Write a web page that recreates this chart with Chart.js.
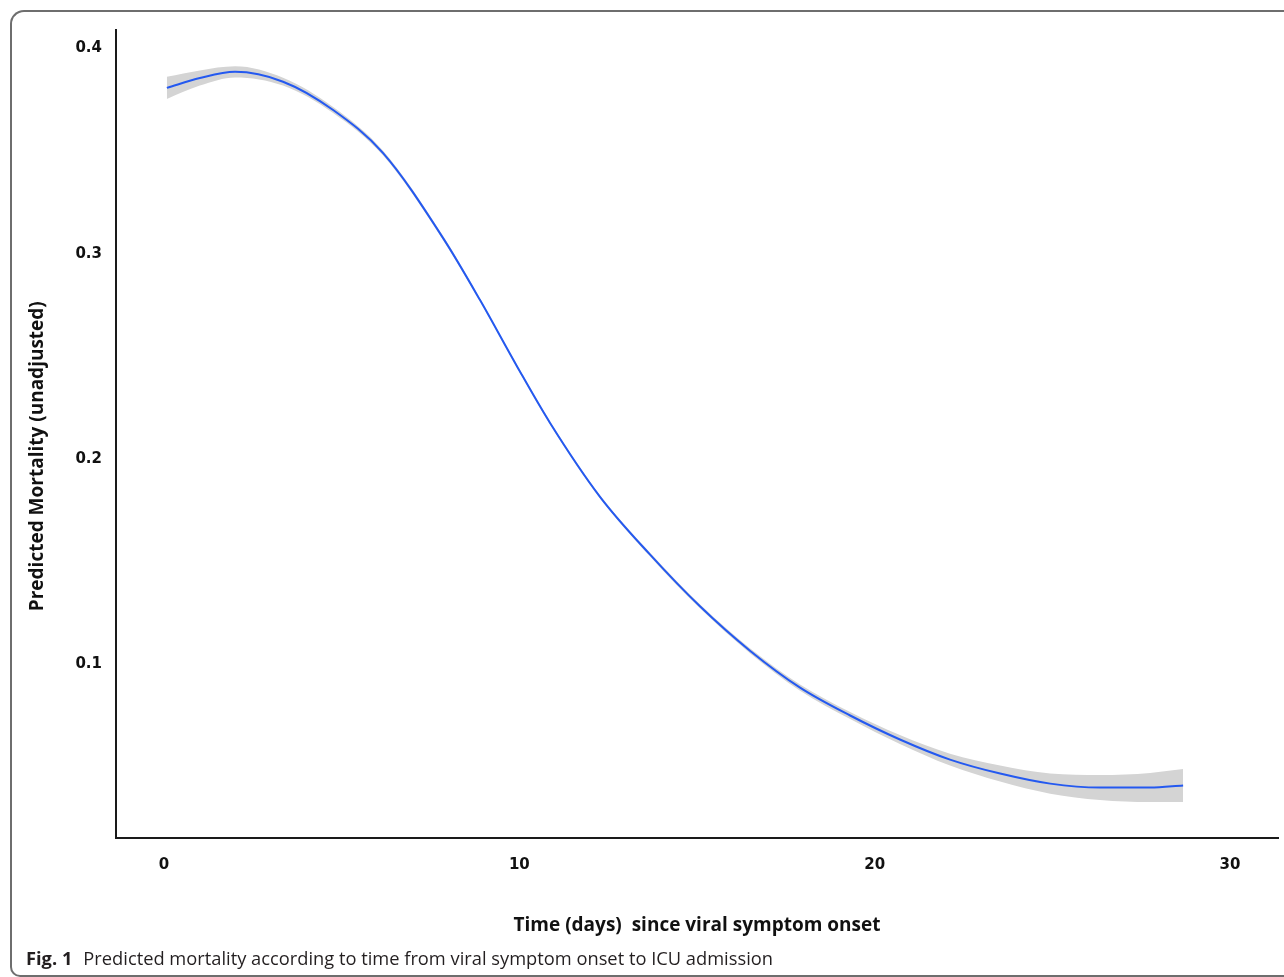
<!DOCTYPE html>
<html>
<head>
<meta charset="utf-8">
<script src="https://cdn.jsdelivr.net/npm/chart.js@4/dist/chart.umd.min.js"></script>
<style>
  html, body { margin: 0; padding: 0; background: #fff; }
  body { width: 1284px; height: 977px; position: relative; overflow: hidden; }
  #frame {
    position: absolute; left: 10px; top: 10px; width: 1300px; height: 963px;
    border-left: 2px solid #6e6e6e; border-top: 2px solid #6e6e6e; border-bottom: 2px solid #6e6e6e;
    border-top-left-radius: 14px; border-bottom-left-radius: 10px;
  }
  #wrap { position: absolute; left: 0; top: 0; width: 1284px; height: 977px; }
  #caption {
    position: absolute; left: 26px; top: 945px;
    font-family: "Open Sans", sans-serif; font-size: 18.3px; color: #231f20; white-space: nowrap;
  }
  #caption b { font-weight: 700; margin-right: 11px; }
</style>
</head>
<body>
<div id="frame"></div>
<div id="wrap"><canvas id="chart"></canvas></div>
<div id="caption"><b>Fig. 1</b>Predicted mortality according to time from viral symptom onset to ICU admission</div>
<script>
// valores
const days = [0.08, 1.01, 2.00, 3.35, 4.76, 6.16, 7.85, 8.89, 9.94, 10.86, 12.27, 13.68, 15.09, 16.49, 17.90, 19.31, 20.71, 22.12, 23.53, 24.94, 26.34, 27.75, 28.68];
const mortality = [0.3808, 0.3856, 0.3886, 0.3838, 0.3700, 0.3491, 0.3077, 0.2775, 0.2449, 0.2176, 0.1815, 0.1533, 0.1280, 0.1065, 0.0885, 0.0749, 0.0632, 0.0534, 0.0466, 0.0417, 0.0398, 0.0398, 0.0408];
const ciLower = [0.3754, 0.3819, 0.3859, 0.3819, 0.3685, 0.3479, 0.3067, 0.2768, 0.2442, 0.2169, 0.1808, 0.1524, 0.1270, 0.1053, 0.0870, 0.0732, 0.0610, 0.0505, 0.0427, 0.0368, 0.0337, 0.0327, 0.0328];
const ciUpper = [0.3862, 0.3893, 0.3913, 0.3857, 0.3715, 0.3503, 0.3087, 0.2782, 0.2456, 0.2183, 0.1822, 0.1542, 0.1290, 0.1077, 0.0900, 0.0766, 0.0654, 0.0563, 0.0505, 0.0466, 0.0459, 0.0469, 0.0488];
const xTicks = [0, 10, 20, 30];
const yTicks = [0.1, 0.2, 0.3, 0.4];

const toPoints = ys => days.map((d, i) => ({ x: d, y: ys[i] }));
const tickFont = { family: 'DejaVu Sans', size: 15, weight: 'bold' };
const titleFont = { family: 'Open Sans', size: 19, weight: 'bold' };

new Chart(document.getElementById('chart'), {
  type: 'line',
  data: {
    datasets: [
      {
        label: 'lower',
        data: toPoints(ciLower),
        borderColor: 'rgba(0,0,0,0)',
        borderWidth: 0,
        pointRadius: 0,
        fill: false,
        cubicInterpolationMode: 'monotone',
        order: 2
      },
      {
        label: 'upper',
        data: toPoints(ciUpper),
        borderColor: 'rgba(0,0,0,0)',
        borderWidth: 0,
        backgroundColor: '#d4d4d4',
        pointRadius: 0,
        fill: '-1',
        cubicInterpolationMode: 'monotone',
        order: 1
      },
      {
        label: 'Predicted mortality',
        data: toPoints(mortality),
        borderColor: '#2459f0',
        borderWidth: 2,
        pointRadius: 0,
        fill: false,
        cubicInterpolationMode: 'monotone',
        order: 0
      }
    ]
  },
  options: {
    responsive: true,
    maintainAspectRatio: false,
    animation: false,
    layout: { padding: { top: 30, right: 6, left: 0, bottom: 40 } },
    plugins: { legend: { display: false }, tooltip: { enabled: false } },
    scales: {
      x: {
        type: 'linear',
        min: -1.351,
        max: 31.35,
        afterBuildTicks: s => { s.ticks = xTicks.map(v => ({ value: v })); },
        afterFit: s => { s.height = 99; },
        grid: { display: false, drawTicks: false },
        border: { display: true, color: '#1a1a1a', width: 2 },
        ticks: { color: '#111', font: tickFont, padding: 18, maxRotation: 0, callback: v => String(v) },
        title: { display: true, text: 'Time (days)  since viral symptom onset', color: '#111', font: titleFont, padding: { top: 0, bottom: 0 } }
      },
      y: {
        type: 'linear',
        min: 0.0152,
        max: 0.409,
        afterBuildTicks: s => { s.ticks = yTicks.map(v => ({ value: v })); },
        afterFit: s => { s.width = 116; },
        grid: { display: false, drawTicks: false },
        border: { display: true, color: '#1a1a1a', width: 2 },
        ticks: { color: '#111', font: tickFont, padding: 14, callback: v => v.toFixed(1) },
        title: { display: true, text: 'Predicted Mortality (unadjusted)         ', color: '#111', font: titleFont, padding: { top: 26, bottom: 0 } }
      }
    }
  }
});
</script>
</body>
</html>
